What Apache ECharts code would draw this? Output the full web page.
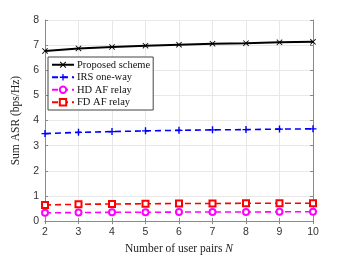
<!DOCTYPE html>
<html><head><meta charset="utf-8">
<script src="https://cdn.jsdelivr.net/npm/echarts@6/dist/echarts.min.js"></script>
<style>html,body{margin:0;padding:0;background:#fff}#c{width:346px;height:260px}</style>
</head><body><div id="c"></div>
<script>
const categories = [2, 3, 4, 5, 6, 7, 8, 9, 10];
const proposed = [6.77, 6.87, 6.93, 6.98, 7.02, 7.06, 7.08, 7.11, 7.13];
const irs = [3.48, 3.53, 3.56, 3.59, 3.61, 3.63, 3.64, 3.66, 3.67];
const hd = [0.33, 0.34, 0.35, 0.35, 0.36, 0.36, 0.36, 0.37, 0.37];
const fd = [0.64, 0.67, 0.68, 0.69, 0.70, 0.70, 0.71, 0.71, 0.71];
const yTicks = [0, 1, 2, 3, 4, 5, 6, 7, 8];
const names = ['Proposed scheme', 'IRS one-way', 'HD AF relay', 'FD AF relay'];

const xPath = 'path://M1,0L5,4L9,0L10,1L6,5L10,9L9,10L5,6L1,10L0,9L4,5L0,1Z';
const plusPath = 'path://M4,0L6,0L6,4L10,4L10,6L6,6L6,10L4,10L4,6L0,6L0,4L4,4Z';
const pair = a => a.map((v, i) => [categories[i], v]);
const chart = echarts.init(document.getElementById('c'));
const serif = 'Liberation Serif';
const axisCommon = {
  axisLine: {show: true, lineStyle: {color: '#8a8a8a', width: 1}},
  axisTick: {show: true, inside: true, length: 3, lineStyle: {color: '#8a8a8a'}},
};
chart.setOption({
  animation: false,
  grid: {left: 45, right: 33, top: 20, bottom: 30},
  legend: {
    orient: 'vertical', left: 48, top: 57, itemGap: 1, itemWidth: 22, itemHeight: 8,
    padding: [2, 3, 2, 3],
    borderColor: '#444', borderWidth: 1, backgroundColor: '#fff',
    textStyle: {fontFamily: serif, fontSize: 10.5, lineHeight: 11.5, color: '#111', padding: [0, 0, 0, -2]},
    data: names
  },
  xAxis: [{
    type: 'value', min: 2, max: 10, interval: 1,
    ...axisCommon,
    splitLine: {show: true, lineStyle: {color: '#e8e8e8'}},
    axisLabel: {fontFamily: 'Liberation Sans', fontSize: 10.5, color: '#333', margin: 6},
    name: '{a|Number of user pairs }{b|N}', nameLocation: 'middle', nameGap: 17,
    nameTextStyle: {rich: {a: {fontFamily: serif, fontSize: 11.5, color: '#222'}, b: {fontFamily: serif, fontStyle: 'italic', fontSize: 11.5, color: '#222'}}}
  }, {
    type: 'value', min: 2, max: 10, interval: 1, position: 'top',
    ...axisCommon, axisLabel: {show: false}, splitLine: {show: false}
  }],
  yAxis: [{
    type: 'value', min: 0, max: 8, interval: 1,
    ...axisCommon,
    splitLine: {show: true, lineStyle: {color: '#e8e8e8'}},
    axisLabel: {fontFamily: 'Liberation Sans', fontSize: 10.5, color: '#333', margin: 6,
      formatter: v => yTicks.includes(v) ? String(v) : ''},
    name: 'Sum ASR (bps/Hz)', nameLocation: 'middle', nameGap: 23,
    nameTextStyle: {fontFamily: serif, fontSize: 11.5, color: '#222'}
  }, {
    type: 'value', min: 0, max: 8, interval: 1, position: 'right',
    ...axisCommon, axisLabel: {show: false}, splitLine: {show: false}
  }],
  series: [
    {name: names[0], type: 'line', data: pair(proposed), symbol: xPath, symbolSize: 6,
     lineStyle: {color: '#000', width: 2}, itemStyle: {color: '#000'}},
    {name: names[1], type: 'line', data: pair(irs), symbol: plusPath, symbolSize: 7,
     lineStyle: {color: '#0000ff', width: 1.6, type: [6, 4]}, itemStyle: {color: '#0000ff'}},
    {name: names[2], type: 'line', data: pair(hd), symbol: 'emptyCircle', symbolSize: 6,
     lineStyle: {color: '#ff00ff', width: 1.6, type: [6, 4]}, itemStyle: {color: '#ff00ff', borderWidth: 1.3}},
    {name: names[3], type: 'line', data: pair(fd), symbol: 'emptyRect', symbolSize: 6,
     lineStyle: {color: '#ff0000', width: 1.6, type: [6, 4]}, itemStyle: {color: '#ff0000', borderWidth: 1.1}}
  ]
});
</script></body></html>
